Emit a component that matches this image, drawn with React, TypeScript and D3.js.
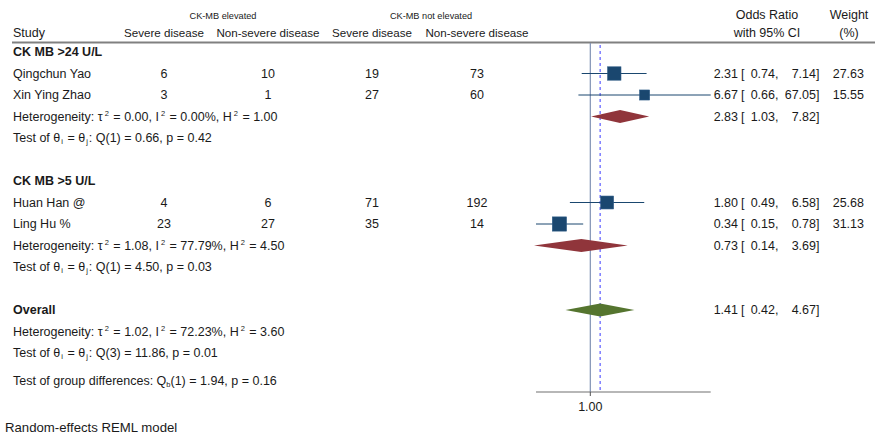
import React from "react";
import * as d3 from "d3";

const studies = ["Qingchun Yao", "Xin Ying Zhao", "Huan Han @", "Ling Hu %"];
const studyGroup = [0, 0, 1, 1];
const elevSevere = [6, 3, 4, 23];
const elevNonSevere = [10, 1, 6, 27];
const notElevSevere = [19, 27, 71, 35];
const notElevNonSevere = [73, 60, 192, 14];
const studyOR = [2.31, 6.67, 1.8, 0.34];
const studyLo = [0.74, 0.66, 0.49, 0.15];
const studyHi = [7.14, 67.05, 6.58, 0.78];
const studyWeight = [27.63, 15.55, 25.68, 31.13];

const groupNames = ["CK MB >24 U/L", "CK MB >5 U/L"];
const groupOR = [2.83, 0.73];
const groupLo = [1.03, 0.14];
const groupHi = [7.82, 3.69];
const groupTau2 = ["0.00", "1.08"];
const groupI2 = ["0.00", "77.79"];
const groupH2 = ["1.00", "4.50"];
const groupQdf = [1, 1];
const groupQ = ["0.66", "4.50"];
const groupP = ["0.42", "0.03"];

const overallOR = 1.41;
const overallLo = 0.42;
const overallHi = 4.67;
const overallTau2 = "1.02";
const overallI2 = "72.23";
const overallH2 = "3.60";
const overallQdf = 3;
const overallQ = "11.86";
const overallP = "0.01";
const groupDiffDf = 1;
const groupDiffQ = "1.94";
const groupDiffP = "0.16";

const colHeaders = ["Severe disease", "Non-severe disease", "Severe disease", "Non-severe disease"];
const spanHeaders = ["CK-MB elevated", "CK-MB not elevated"];
const xTicks = [1];

const FONT = "'Liberation Sans', Arial, sans-serif";
const TXT = "#1a1a1a";
const NAVY = "#1a476f";
const MAROON = "#90353b";
const GREEN = "#55752f";

const f2 = (v: number) => v.toFixed(2);

export default function App() {
  const x = d3.scaleLog().domain([0.15, 67.05]).range([536, 710.7]);
  const row = d3.scaleLinear().domain([0, 14]).range([52, 353]);
  const colX = [164, 268, 372, 477];
  const spanX = [223, 431];
  const fs = 12.5;
  const hfs = 11.6;
  const sfs = 7.5;

  const hetText = (tau2: string, i2: string, h2: string) => (
    <>
      <tspan>Heterogeneity: τ</tspan>
      <tspan dx={2} dy={-5} fontSize={sfs}>2</tspan>
      <tspan dx={1} dy={5}>{` = ${tau2}, I`}</tspan>
      <tspan dx={2} dy={-5} fontSize={sfs}>2</tspan>
      <tspan dx={1} dy={5}>{` = ${i2}%, H`}</tspan>
      <tspan dx={2} dy={-5} fontSize={sfs}>2</tspan>
      <tspan dx={1} dy={5}>{` = ${h2}`}</tspan>
    </>
  );

  const testText = (df: number, q: string, p: string) => (
    <>
      <tspan>Test of θ</tspan>
      <tspan dx={1} dy={2} fontSize={sfs}>i</tspan>
      <tspan dx={1} dy={-2}> = θ</tspan>
      <tspan dx={1} dy={2} fontSize={sfs}>j</tspan>
      <tspan dx={1} dy={-2}>{`: Q(${df}) = ${q}, p = ${p}`}</tspan>
    </>
  );

  const orText = (est: number, lo: number, hi: number, y: number) => (
    <g fontSize={fs} fill={TXT}>
      <text x={738} y={y} dy="0.35em" textAnchor="end">{f2(est)}</text>
      <text x={741} y={y} dy="0.35em">[</text>
      <text x={775} y={y} dy="0.35em" textAnchor="end">{f2(lo)}</text>
      <text x={775} y={y} dy="0.35em">,</text>
      <text x={816} y={y} dy="0.35em" textAnchor="end">{f2(hi)}</text>
      <text x={816} y={y} dy="0.35em">]</text>
    </g>
  );

  const diamond = (est: number, lo: number, hi: number, y: number, color: string) => {
    const h = 6.5;
    const d = `M${x(lo)},${y}L${x(est)},${y - h}L${x(hi)},${y}L${x(est)},${y + h}Z`;
    return <path d={d} fill={color} />;
  };

  const groupStartRows = [0, 6];
  const studyRows: number[] = [];
  studies.forEach((_, i) => {
    const g = studyGroup[i];
    const idxInGroup = studies.slice(0, i).filter((__, j) => studyGroup[j] === g).length;
    studyRows.push(groupStartRows[g] + 1 + idxInGroup);
  });

  const axisY = 392;
  const overallRow = 12;
  const groupDiffY = 381;

  return (
    <svg
      width={875}
      height={436}
      style={{ position: "absolute", left: 0, top: 0, background: "#fff" }}
      fontFamily={FONT}
    >
      <rect width={875} height={436} fill="#fff" />
      {/* headers */}
      {spanHeaders.map((s, i) => (
        <text key={s} x={spanX[i]} y={16} dy="0.35em" fontSize={9.2} textAnchor="middle" fill={TXT}>
          {s}
        </text>
      ))}
      <text x={13} y={33} dy="0.35em" fontSize={fs} fill={TXT}>Study</text>
      {colHeaders.map((s, i) => (
        <text key={i} x={colX[i]} y={33} dy="0.35em" fontSize={hfs} textAnchor="middle" fill={TXT}>
          {s}
        </text>
      ))}
      <text x={767} y={15} dy="0.35em" fontSize={fs} textAnchor="middle" fill={TXT}>Odds Ratio</text>
      <text x={767} y={33} dy="0.35em" fontSize={fs} textAnchor="middle" fill={TXT}>with 95% CI</text>
      <text x={849} y={15} dy="0.35em" fontSize={fs} textAnchor="middle" fill={TXT}>Weight</text>
      <text x={849} y={33} dy="0.35em" fontSize={fs} textAnchor="middle" fill={TXT}>(%)</text>
      <line x1={12} x2={875} y1={42.5} y2={42.5} stroke="#808080" strokeWidth={2} />

      {/* reference lines */}
      <line x1={x(1)} x2={x(1)} y1={43} y2={axisY} stroke="#7f91b3" strokeWidth={1.2} />
      <line
        x1={x(overallOR)}
        x2={x(overallOR)}
        y1={45}
        y2={axisY}
        stroke="#5c5cff"
        strokeWidth={1.2}
        strokeDasharray="3,3"
      />

      {/* groups */}
      {groupNames.map((g, gi) => {
        const r0 = groupStartRows[gi];
        const nStudies = studyGroup.filter((v) => v === gi).length;
        const hetRow = r0 + 1 + nStudies;
        return (
          <g key={g}>
            <text x={13} y={row(r0)} dy="0.35em" fontSize={fs} fontWeight="bold" fill={TXT}>{g}</text>
            {diamond(groupOR[gi], groupLo[gi], groupHi[gi], row(hetRow), MAROON)}
            <text x={13} y={row(hetRow)} dy="0.35em" fontSize={fs} fill={TXT}>
              {hetText(groupTau2[gi], groupI2[gi], groupH2[gi])}
            </text>
            {orText(groupOR[gi], groupLo[gi], groupHi[gi], row(hetRow))}
            <text x={13} y={row(hetRow + 1)} dy="0.35em" fontSize={fs} fill={TXT}>
              {testText(groupQdf[gi], groupQ[gi], groupP[gi])}
            </text>
          </g>
        );
      })}

      {/* studies */}
      {studies.map((s, i) => {
        const y = row(studyRows[i]);
        const side = 2.55 * Math.sqrt(studyWeight[i]);
        const vals = [elevSevere[i], elevNonSevere[i], notElevSevere[i], notElevNonSevere[i]];
        return (
          <g key={s}>
            <text x={13} y={y} dy="0.35em" fontSize={fs} fill={TXT}>{s}</text>
            {vals.map((v, k) => (
              <text key={k} x={colX[k]} y={y} dy="0.35em" fontSize={fs} textAnchor="middle" fill={TXT}>
                {v}
              </text>
            ))}
            <line x1={x(studyLo[i])} x2={x(studyHi[i])} y1={y} y2={y} stroke={NAVY} strokeWidth={1} />
            <rect
              x={x(studyOR[i]) - side / 2}
              y={y - side / 2}
              width={side}
              height={side}
              fill={NAVY}
              stroke="#2d5b86"
              strokeWidth={0.6}
            />
            {orText(studyOR[i], studyLo[i], studyHi[i], y)}
            <text x={864} y={y} dy="0.35em" fontSize={fs} textAnchor="end" fill={TXT}>
              {f2(studyWeight[i])}
            </text>
          </g>
        );
      })}

      {/* overall */}
      <text x={13} y={row(overallRow)} dy="0.35em" fontSize={fs} fontWeight="bold" fill={TXT}>Overall</text>
      {diamond(overallOR, overallLo, overallHi, row(overallRow), GREEN)}
      {orText(overallOR, overallLo, overallHi, row(overallRow))}
      <text x={13} y={row(overallRow + 1)} dy="0.35em" fontSize={fs} fill={TXT}>
        {hetText(overallTau2, overallI2, overallH2)}
      </text>
      <text x={13} y={row(overallRow + 2)} dy="0.35em" fontSize={fs} fill={TXT}>
        {testText(overallQdf, overallQ, overallP)}
      </text>
      <text x={13} y={groupDiffY} dy="0.35em" fontSize={fs} fill={TXT}>
        <tspan>Test of group differences: Q</tspan>
        <tspan dy={2} fontSize={sfs}>b</tspan>
        <tspan dy={-2}>{`(${groupDiffDf}) = ${groupDiffQ}, p = ${groupDiffP}`}</tspan>
      </text>

      {/* axis */}
      <line x1={x.range()[0]} x2={x.range()[1]} y1={axisY} y2={axisY} stroke="#707070" strokeWidth={1.2} />
      {xTicks.map((t) => (
        <g key={t}>
          <line x1={x(t)} x2={x(t)} y1={axisY} y2={axisY + 4} stroke="#505050" strokeWidth={1} />
          <text x={x(t)} y={407} dy="0.35em" fontSize={fs} textAnchor="middle" fill={TXT}>
            {f2(t)}
          </text>
        </g>
      ))}

      <text x={5} y={427} dy="0.35em" fontSize={13.2} fill={TXT}>Random-effects REML model</text>
    </svg>
  );
}
